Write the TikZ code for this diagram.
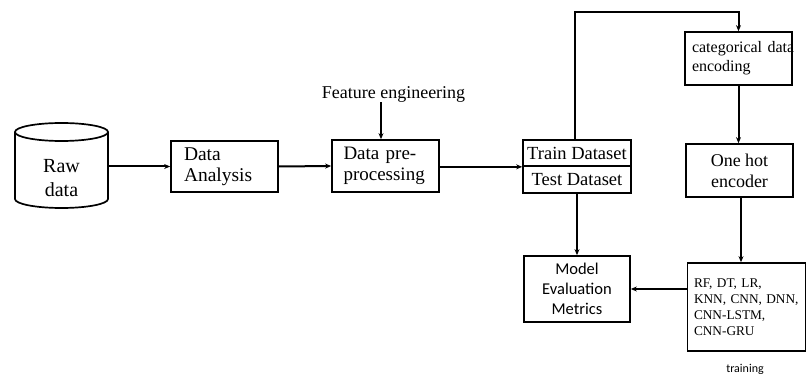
\documentclass[tikz,border=0pt]{standalone}
\usepackage{fontspec}
\setmainfont{Liberation Serif}
\newfontfamily\calibri{Carlito}
\usetikzlibrary{arrows.meta,positioning}

\begin{document}
\begin{tikzpicture}[x=1pt,y=-1pt,
  box/.style={draw,line width=1.7pt,rectangle,inner sep=0pt},
  conn/.style={line width=2pt,-{Stealth[length=6pt,width=5pt]}}]
\useasboundingbox (0,0) rectangle (807,374);

% raw data store (cylinder)
\node[minimum width=93pt,minimum height=85pt,inner sep=0pt,align=center,
      font=\fontsize{20}{24}\selectfont] (raw) at (61.5,178) {Raw\\data};
\draw[line width=1.7pt] (61.5,132) ellipse [x radius=46.5pt, y radius=9pt];
\draw[line width=1.7pt] (15,132) -- (15,199) arc[start angle=180,end angle=360,x radius=46.5pt,y radius=9pt] -- (108,132);

% pipeline boxes
\node[box,minimum width=107pt,minimum height=51pt,text width=81pt,align=left,
      font=\fontsize{19.5}{21}\selectfont] (analysis) at (224.5,166.5) {Data\\Analysis};
\node[box,minimum width=107pt,minimum height=52pt,text width=84pt,align=left,
      font=\fontsize{19}{20.5}\selectfont] (pre) at (385.5,166) {Data pre-\\processing};
\node[inner sep=0pt,font=\fontsize{18}{20}\selectfont] (fe) at (393.5,94) {Feature engineering};

\node[box,minimum width=108pt,minimum height=26pt,align=center,
      font=\fontsize{18.5}{20}\selectfont] (train) at (577,153) {Train Dataset};
\node[box,minimum width=108pt,minimum height=27pt,align=center,
      font=\fontsize{18.5}{20}\selectfont] (test) at (577,179.5) {Test Dataset};

\node[box,minimum width=107pt,minimum height=53pt,text width=93pt,align=left,
      font=\fontsize{16}{19}\selectfont] (cat) at (738.5,58.5) {\mbox{categorical data}\\encoding};
\node[box,minimum width=107pt,minimum height=53pt,align=center,
      font=\fontsize{18}{21}\selectfont] (onehot) at (739.5,170.5) {One hot\\encoder};

\node[box,minimum width=118pt,minimum height=88pt,text width=105pt,align=left,
      font=\fontsize{13.3}{16}\selectfont] (models) at (746.5,307)
  {\mbox{RF, DT, LR,}\\\mbox{KNN, CNN, DNN,}\\\mbox{CNN-LSTM,}\\\mbox{CNN-GRU}};
\node[inner sep=0pt,font=\calibri\fontsize{12}{14}\selectfont] (trainlbl) at (745,369) {training};

\node[box,minimum width=106pt,minimum height=66pt,align=center,
      font=\calibri\fontsize{16.5}{20}\selectfont] (eval) at (577,289) {Model\\Evaluation\\Metrics};

% connectors
\draw[conn] (raw.east |- analysis.west) -- (analysis.west);
\draw[conn] (analysis.east) -- (pre.west);
\draw[conn] ([xshift=-4.5pt]pre.north |- fe.south) -- ([xshift=-4.5pt]pre.north);
\draw[conn] (pre.east |- train.south west) -- (train.south west);
\coordinate (bend) at (738.5,12);
\draw[conn] ([xshift=-2pt]train.north) |- (bend) -- (cat.north);
\draw[conn] (cat.south) -- (cat.south |- onehot.north);
\draw[conn] ([xshift=1.5pt]onehot.south) -- ([xshift=1.5pt]onehot.south |- models.north);
\draw[conn] (test.south) -- (eval.north);
\draw[conn] (models.west |- eval.east) -- (eval.east);
\end{tikzpicture}
\end{document}
